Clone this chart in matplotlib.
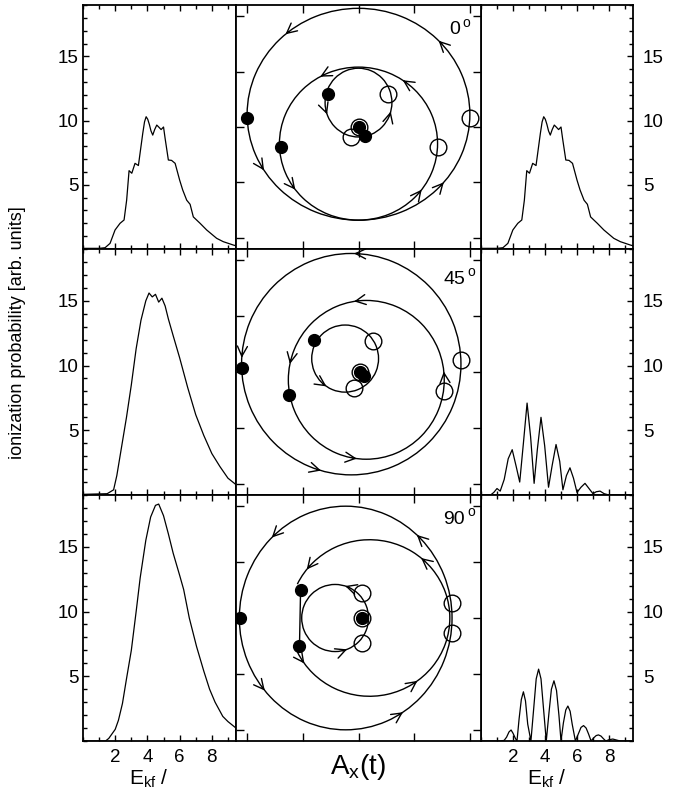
import numpy as np
import matplotlib
matplotlib.use("Agg")
import matplotlib.pyplot as plt
from matplotlib.patches import Arc
from matplotlib.ticker import MultipleLocator, FixedLocator

plt.rcParams["font.family"] = ["Liberation Sans", "DejaVu Sans"]
plt.rcParams["mathtext.fontset"] = "custom"
plt.rcParams["mathtext.rm"] = "Liberation Sans"
plt.rcParams["mathtext.it"] = "Liberation Sans:italic"

# ---- spectra: energy / probability pairs ----
e_row1 = [0, 1.0, 1.37, 1.68, 1.99, 2.3, 2.55, 2.71, 2.86, 3.03, 3.23, 3.44, 3.71, 3.82, 3.92,
          4.02, 4.12, 4.22, 4.33, 4.45, 4.58, 4.7, 4.85, 5.0, 5.1, 5.3, 5.5, 5.72, 6.0, 6.19,
          6.44, 6.65, 6.85, 7.27, 7.68, 8.3, 8.71, 9.33, 9.5]
p_row1 = [0.05, 0.05, 0.1, 0.44, 1.48, 2.0, 2.26, 3.8, 6.1, 5.9, 6.67, 6.5, 9.0, 9.9, 10.3,
          10.1, 9.7, 9.2, 8.87, 9.3, 9.65, 9.5, 9.3, 9.5, 8.6, 6.93, 6.9, 6.67, 5.37, 4.6,
          3.8, 3.48, 2.5, 2.0, 1.48, 0.83, 0.57, 0.31, 0.25]

e_row2_left = [0, 1.5, 1.9, 2.1, 2.3, 2.5, 2.7, 3.0, 3.3, 3.6, 3.9, 4.1, 4.3, 4.5, 4.7, 4.9,
               5.1, 5.3, 5.6, 6.0, 6.5, 7.0, 7.5, 8.0, 8.5, 9.0, 9.5]
p_row2_left = [0.05, 0.1, 0.4, 1.5, 3.0, 4.5, 6.0, 8.5, 11.3, 13.5, 15.0, 15.6, 15.3, 15.5,
               14.9, 15.2, 14.6, 13.6, 12.3, 10.6, 8.3, 6.2, 4.6, 3.2, 2.2, 1.3, 0.8]

e_row2_right = [0, 0.6, 0.8, 1.0, 1.2, 1.45, 1.7, 1.95, 2.2, 2.42, 2.65, 2.88, 3.1, 3.32, 3.52,
                3.75, 3.98, 4.22, 4.45, 4.69, 4.92, 5.12, 5.34, 5.56, 5.78, 6.0, 6.25, 6.5,
                6.75, 7.0, 7.2, 7.44, 7.7, 8.0, 9.5]
p_row2_right = [0, 0, 0.2, 0.5, 0.3, 1.2, 2.8, 3.5, 2.2, 1.0, 4.0, 7.1, 4.5, 0.9, 3.5,
                6.0, 3.8, 0.6, 2.3, 3.9, 2.6, 0.4, 1.5, 2.1, 1.3, 0.2, 0.6, 0.9,
                0.5, 0.1, 0.25, 0.3, 0.1, 0, 0]

e_row3_left = [0, 1.4, 1.6, 2.0, 2.2, 2.45, 2.7, 3.0, 3.3, 3.55, 3.9, 4.2, 4.5, 4.7, 5.0, 5.3,
               5.6, 6.0, 6.25, 6.6, 7.05, 7.5, 7.86, 8.2, 8.68, 9.0, 9.5]
p_row3_left = [0, 0, 0.2, 0.9, 1.6, 2.9, 4.8, 7.0, 10.0, 12.6, 15.5, 17.3, 18.2, 18.3, 17.4,
               16.0, 14.5, 12.8, 11.7, 9.5, 7.3, 5.4, 4.0, 3.0, 1.9, 1.5, 1.0]

e_row3_right = [0, 1.2, 1.45, 1.6, 1.75, 1.88, 2.0, 2.15, 2.25, 2.38, 2.52, 2.65, 2.78, 2.92,
                3.12, 3.3, 3.45, 3.6, 3.75, 3.9, 4.08, 4.25, 4.4, 4.56, 4.72, 4.87, 5.0,
                5.15, 5.3, 5.43, 5.57, 5.7, 5.9, 6.1, 6.25, 6.41, 6.57, 6.72, 6.88, 7.05,
                7.2, 7.34, 7.5, 7.65, 7.8, 8.0, 8.24, 8.45, 8.7, 9.5]
p_row3_right = [0, 0, 0.05, 0.3, 0.7, 0.85, 0.6, 0.2, 0, 1.7, 3.2, 3.8, 3.1, 1.3,
                0, 2.6, 4.8, 5.55, 4.8, 2.6, 0, 2.2, 4.0, 4.65, 3.9, 2.0, 0,
                1.4, 2.4, 2.7, 2.3, 1.3, 0, 0.6, 1.05, 1.19, 1.0, 0.55, 0, 0.25,
                0.42, 0.47, 0.38, 0.18, 0, 0.1, 0.15, 0.08, 0, 0]

left_spectra = [(e_row1, p_row1), (e_row2_left, p_row2_left), (e_row3_left, p_row3_left)]
right_spectra = [(e_row1, p_row1), (e_row2_right, p_row2_right), (e_row3_right, p_row3_right)]

# ---- A(t) loops: centre x, centre y, half-width, half-height, start/end angle (deg) ----
angle_labels = ["0", "45", "90"]
loops = [
    [(0.0, 0.115, 1.0, 0.955, 0, 360), (0.0, -0.15, 0.71, 0.69, 0, 360), (0.0, 0.22, 0.30, 0.31, 0, 360)],
    [(-0.065, 0.07, 0.985, 0.99, 0, 360), (0.07, -0.07, 0.70, 0.71, 0, 360), (-0.12, 0.12, 0.30, 0.30, 0, 360)],
    [(-0.115, 0.0, 0.955, 1.0, 0, 360), (0.10, 0.0, 0.72, 0.70, 205, 515), (-0.21, 0.0, 0.30, 0.30, 0, 360)],
]
# arrow angles on each loop (deg)
arrow_angles = [
    [[131, 44, 212, 320], [119, 56, 217, 323], [200, 345]],
    [[88.5, 176.7, 254], [99, 168.5, 263, 6], [236]],
    [[134, 48, 220.5, 302.6], [501.7, 410, 215.6, 306.6], [72.5, 291]],
]
born_x = [[-1.0, -0.70, -0.27, 0.0, 0.057], [-1.05, -0.62, -0.40, 0.01, 0.05], [-1.06, -0.52, -0.53, 0.03]]
born_y = [[0.08, -0.18, 0.30, 0.0, -0.08], [0.036, -0.21, 0.29, 0.0, -0.04], [0.0, 0.25, -0.25, 0.0]]
ret_x = [[1.0, 0.71, 0.264, 0.0, -0.066], [0.92, 0.77, 0.13, 0.01, -0.04], [0.84, 0.84, 0.03, 0.03, 0.03]]
ret_y = [[0.08, -0.18, 0.30, 0.0, -0.087], [0.11, -0.17, 0.28, 0.0, -0.14], [0.13, -0.13, 0.22, -0.22, 0.0]]

W, H = 683, 795
fig = plt.figure(figsize=(W / 100, H / 100), dpi=100)

col_px = [83, 236, 481, 633]
row_px = [5, 249, 495, 741]


def add_ax(c, r):
    x0 = col_px[c] / W
    x1 = col_px[c + 1] / W
    y0 = 1 - row_px[r + 1] / H
    y1 = 1 - row_px[r] / H
    return fig.add_axes([x0, y0, x1 - x0, y1 - y0])


def style_spec(ax, side, last):
    ax.set_xlim(0, 9.5)
    ax.set_ylim(0, 19)
    ax.xaxis.set_major_locator(FixedLocator([2, 4, 6, 8]))
    ax.xaxis.set_minor_locator(MultipleLocator(1))
    ax.yaxis.set_major_locator(FixedLocator([5, 10, 15]))
    ax.yaxis.set_minor_locator(MultipleLocator(1))
    ax.tick_params(which="both", direction="in", top=True, bottom=True,
                   left=(side == "left"), right=(side == "right"),
                   labelleft=(side == "left"), labelright=(side == "right"),
                   labelbottom=last, labelsize=13.5, width=1)
    ax.tick_params(which="major", length=4.5)
    ax.tick_params(which="minor", length=3)
    ax.tick_params(axis="x", pad=6)
    ax.tick_params(axis="y", pad=3 if side == "left" else 7)
    for s in ax.spines.values():
        s.set_linewidth(1.3)


for r in range(3):
    ax = add_ax(0, r)
    ax.plot(*left_spectra[r], color="k", lw=0.9)
    style_spec(ax, "left", r == 2)

    ax = add_ax(2, r)
    ax.plot(*right_spectra[r], color="k", lw=0.9)
    style_spec(ax, "right", r == 2)

    ax = add_ax(1, r)
    ax.set_xlim(-1.1, 1.1)
    ax.set_ylim(-1.1, 1.1)
    ax.set_xticks([-1, -0.5, 0, 0.5, 1])
    ax.set_yticks([-1, -0.5, 0, 0.5, 1])
    ax.tick_params(direction="in", length=6, width=1, top=True, right=True,
                   labelbottom=False, labelleft=False)
    for s in ax.spines.values():
        s.set_linewidth(1.3)

    for (cx, cy, rx, ry, t0, t1), angs in zip(loops[r], arrow_angles[r]):
        ax.add_patch(Arc((cx, cy), 2 * rx, 2 * ry, theta1=t0, theta2=t1, color="k", lw=1.0))
        for a in angs:
            t = np.radians(a)
            px, py = cx + rx * np.cos(t), cy + ry * np.sin(t)
            tx, ty = -rx * np.sin(t), ry * np.cos(t)
            n = np.hypot(tx, ty)
            ax.annotate("", xy=(px, py), xytext=(px - 0.04 * tx / n, py - 0.04 * ty / n),
                        arrowprops=dict(arrowstyle="->,head_length=0.6,head_width=0.3",
                                        lw=1.0, color="k", shrinkA=0, shrinkB=0,
                                        mutation_scale=12))
    if r == 2:
        ax.plot(born_x[r][1:3], born_y[r][1:3], color="k", lw=1.0)

    ax.plot(born_x[r], born_y[r], "o", ms=8.5, color="k", zorder=4)
    ax.plot(ret_x[r], ret_y[r], "o", ms=12, mfc="none", mec="k", mew=1.0, zorder=5)

    lab_pos = [(0.914, 0.898, 0.922, 0.925), (0.935, 0.876, 0.943, 0.906),
               (0.935, 0.902, 0.943, 0.931)][r]
    ax.text(lab_pos[0], lab_pos[1], angle_labels[r], transform=ax.transAxes,
            ha="right", va="center", fontsize=14)
    ax.text(lab_pos[2], lab_pos[3], "o", transform=ax.transAxes,
            ha="left", va="center", fontsize=10)

fig.text(18 / W, 1 - 333 / H, "ionization probability [arb. units]", rotation=90,
         ha="center", va="center", fontsize=13)
fig.text(358 / W, 1 - 767 / H, r"$\mathregular{A_{x}(t)}$", ha="center", va="center",
         fontsize=20)
fig.text(149 / W, 1 - 779 / H, r"$\mathregular{E_{kf}}$ /", ha="center", va="center",
         fontsize=15)
fig.text(547 / W, 1 - 779 / H, r"$\mathregular{E_{kf}}$ /", ha="center", va="center",
         fontsize=15)

fig.savefig("out.png", dpi=100)
